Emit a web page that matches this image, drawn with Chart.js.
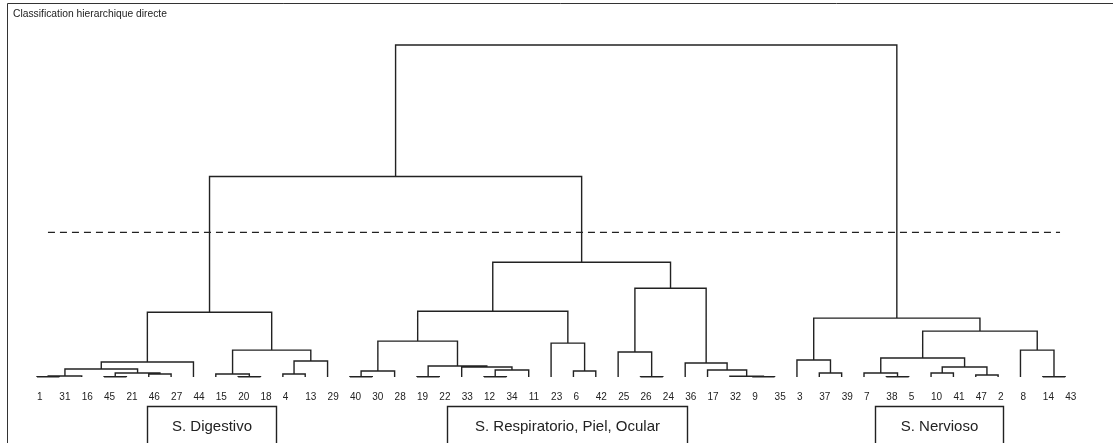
<!DOCTYPE html>
<html>
<head>
<meta charset="utf-8">
<title>Classification hierarchique directe</title>
<script src="https://cdn.jsdelivr.net/npm/chart.js@4/dist/chart.umd.min.js"></script>
<style>
  html, body { margin: 0; padding: 0; background: #fff; }
  #contenedor { width: 1113px; height: 443px; }
</style>
</head>
<body>
<div id="contenedor"><canvas id="dendrograma"></canvas></div>
<script>
var titulo = "Classification hierarchique directe";

// orden de las hojas (de izquierda a derecha)
var hojas = [1, 31, 16, 45, 21, 46, 27, 44, 15, 20, 18, 4, 13, 29, 40, 30, 28, 19, 22, 33, 12, 34, 11,
             23, 6, 42, 25, 26, 24, 36, 17, 32, 9, 35, 3, 37, 39, 7, 38, 5, 10, 41, 47, 2, 8, 14, 43];

// fusiones estilo hclust: negativo = hoja, positivo = numero de fusion anterior
var fusionA = [-1, 1, -45, -46, 3, 2, 6, -20, -15, -4, 10, 9, 7,
               -40, 14, -19, -12, 17, -33, 16, 15, -6, -23, 21, -26, -25, -9, -32, -17, -36, 26, 24, 13,
               -37, -3, -38, -7, -10, -47, 38, 37, -14, -8, 41, 35, 33];
var fusionB = [-31, -16, -21, -27, 4, 5, -44, -18, 8, -13, -29, 11, 12,
               -30, -28, -22, -34, -11, 18, 19, 20, -42, 22, 23, -24, 25, -35, 27, 28, 29, 30, 31, 32,
               -39, 34, -5, 36, -41, -2, 39, 40, -43, 42, 43, 44, 45];
var alturas = [0.3, 1, 0.3, 3, 4, 8, 15, 0.3, 3, 3, 16, 27, 65,
               0.3, 6, 0.3, 0.3, 7, 10, 11, 36, 6, 34, 66, 0.3, 25, 0.3, 0.8, 7, 14, 89, 115, 201,
               4, 17, 0.3, 4, 4, 2, 10, 19, 0.3, 27, 46, 59, 333];

var alturaCorte = 145;

var nodoX = [];
var nodoY = [];

function posicion(ref) {
    if (ref < 0) {
        return { x: hojas.indexOf(-ref), y: 0 };
    }
    return { x: nodoX[ref - 1], y: nodoY[ref - 1] };
}

var ramas = [];
for (var i = 0; i < alturas.length; i++) {
    var a = posicion(fusionA[i]);
    var b = posicion(fusionB[i]);
    var h = alturas[i];
    nodoX[i] = (a.x + b.x) / 2;
    nodoY[i] = h;
    ramas.push({ x: a.x, y: a.y }, { x: a.x, y: h }, { x: b.x, y: h }, { x: b.x, y: b.y }, { x: b.x, y: null });
}

var marco = {
    id: 'marco',
    afterDraw: function (chart, args, opts) {
        var ctx = chart.ctx;
        var ejeX = chart.scales.x;
        var base = chart.chartArea.bottom;
        ctx.save();
        ctx.strokeStyle = '#333';
        ctx.lineWidth = 1;
        ctx.beginPath();
        ctx.moveTo(7.5, chart.height);
        ctx.lineTo(7.5, 3.5);
        ctx.lineTo(chart.width, 3.5);
        ctx.stroke();

        ctx.fillStyle = '#222';
        ctx.font = '10.3px "Liberation Sans"';
        ctx.textBaseline = 'middle';
        ctx.textAlign = 'left';
        ctx.fillText(titulo, 13, 14);

        ctx.lineWidth = 1.4;
        ctx.strokeStyle = '#222';
        ctx.font = '15px "Liberation Sans"';
        ctx.textAlign = 'center';
        opts.cajas.forEach(function (c) {
            var x1 = Math.round(ejeX.getPixelForValue(c.desde)) + 0.5;
            var x2 = Math.round(ejeX.getPixelForValue(c.hasta)) + 0.5;
            var y1 = Math.round(base + 29) + 0.5;
            ctx.beginPath();
            ctx.moveTo(x1, chart.height + 2);
            ctx.lineTo(x1, y1);
            ctx.lineTo(x2, y1);
            ctx.lineTo(x2, chart.height + 2);
            ctx.stroke();
            ctx.fillText(c.texto, (x1 + x2) / 2, base + 50);
        });
        ctx.restore();
    }
};

var ctx = document.getElementById('dendrograma').getContext('2d');

var grafico = new Chart(ctx, {
    type: 'scatter',
    data: {
        datasets: [{
            label: 'ramas',
            data: ramas,
            showLine: true,
            spanGaps: false,
            borderColor: '#222',
            borderWidth: 1.4,
            pointRadius: 0,
            clip: false
        }, {
            label: 'corte',
            data: [{ x: 0.49, y: alturaCorte }, { x: 45.77, y: alturaCorte }],
            showLine: true,
            borderColor: '#222',
            borderWidth: 1.2,
            borderDash: [7, 5],
            pointRadius: 0,
            clip: false
        }]
    },
    options: {
        responsive: true,
        maintainAspectRatio: false,
        animation: false,
        layout: { padding: { left: 8, right: 0, top: 20, bottom: 26 } },
        plugins: {
            legend: { display: false },
            tooltip: { enabled: false },
            marco: {
                cajas: [
                    { texto: 'S. Digestivo', desde: 4.92, hasta: 10.69 },
                    { texto: 'S. Respiratorio, Piel, Ocular', desde: 18.34, hasta: 29.08 },
                    { texto: 'S. Nervioso', desde: 37.49, hasta: 43.22 }
                ]
            }
        },
        scales: {
            x: {
                type: 'linear',
                min: -1.2975,
                max: 48.14,
                grid: { display: false, drawTicks: false },
                border: { display: false },
                afterBuildTicks: function (escala) {
                    escala.ticks = hojas.map(function (hoja, i) { return { value: i }; });
                },
                ticks: {
                    autoSkip: false,
                    maxRotation: 0,
                    align: 'start',
                    padding: 14,
                    color: '#222',
                    font: { family: 'Liberation Sans', size: 10 },
                    callback: function (valor) { return hojas[Math.round(valor)]; }
                }
            },
            y: { display: false, min: 0, max: 358 }
        }
    },
    plugins: [marco]
});
</script>
</body>
</html>
